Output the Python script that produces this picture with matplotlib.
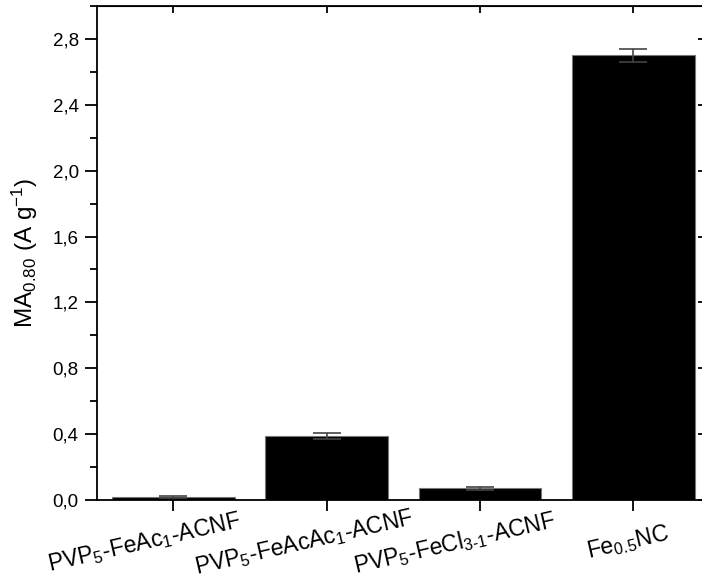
import matplotlib
matplotlib.use("Agg")
import matplotlib.pyplot as plt
import matplotlib.transforms as mtransforms
from matplotlib.ticker import MultipleLocator, FuncFormatter

plt.rcParams["font.family"] = ["Liberation Sans", "DejaVu Sans"]
plt.rcParams["mathtext.fontset"] = "custom"
plt.rcParams["mathtext.rm"] = "Liberation Sans"
plt.rcParams["mathtext.it"] = "Liberation Sans"
plt.rcParams["mathtext.default"] = "regular"

# datos
muestras = [
    r"PVP$_{5}$-FeAc$_{1}$-ACNF",
    r"PVP$_{5}$-FeAcAc$_{1}$-ACNF",
    r"PVP$_{5}$-FeCl$_{3\text{-}1}$-ACNF",
    r"Fe$_{0.5}$NC",
]
ma_080 = [0.02, 0.39, 0.07, 2.70]
error = [0.005, 0.017, 0.008, 0.04]
x = [1, 2, 3, 4]

fig = plt.figure(figsize=(7.02, 5.84), dpi=100)
ax = fig.add_axes([96.7 / 702, 84 / 584, (710 - 96.7) / 702, 494 / 584])

ax.bar(x, ma_080, width=0.8, color="black", edgecolor="#777777", linewidth=0.8,
       yerr=error, capsize=10, error_kw=dict(ecolor="#444444", elinewidth=1.2, capthick=1.2))

ax.set_xlim(0.5, 4.5)
ax.set_ylim(0, 3.0)
ax.yaxis.set_major_locator(MultipleLocator(0.4))
ax.yaxis.set_minor_locator(MultipleLocator(0.2))
ax.yaxis.set_major_formatter(FuncFormatter(lambda v, p: f"{v:.1f}".replace(".", ",")))

for s in ax.spines.values():
    s.set_linewidth(1.3)

ax.tick_params(axis="y", which="major", direction="out", length=9, width=1.3, labelsize=13.5, pad=4)
ax.tick_params(axis="y", which="minor", direction="out", length=5, width=1.3)
ax.tick_params(axis="x", which="major", direction="out", length=8, width=1.3, labelsize=16.5, pad=2)

# ejes secundarios (ticks hacia adentro)
sec_y = ax.secondary_yaxis("right")
sec_y.yaxis.set_major_locator(MultipleLocator(0.4))
sec_y.tick_params(direction="in", length=9, width=1.3, labelright=False)
sec_x = ax.secondary_xaxis("top")
sec_x.set_xticks(x)
sec_x.tick_params(direction="in", length=5, width=1.3, labeltop=False)

ax.set_xticks(x)
ax.set_xticklabels(muestras, rotation=13, ha="center", va="center", rotation_mode="anchor")
desplaz = [-29, -22, -25, -5]
for lab, dx in zip(ax.get_xticklabels(), desplaz):
    lab.set_transform(lab.get_transform() + mtransforms.ScaledTranslation(dx / 100, -29 / 100, fig.dpi_scale_trans))

ax.set_ylabel(r"MA$_{0.80}$ (A g$^{-1}$)", fontsize=17.5, labelpad=9)

fig.savefig("out.png", dpi=100)
